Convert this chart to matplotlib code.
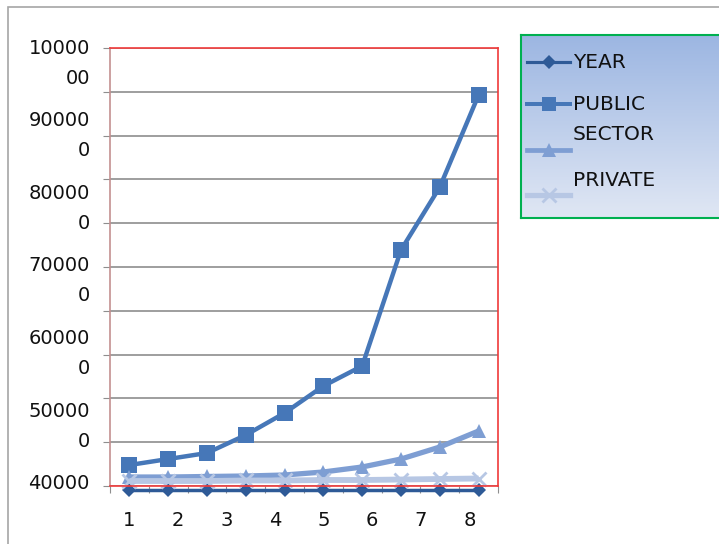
import numpy as np
import matplotlib
matplotlib.use("Agg")
import matplotlib.pyplot as plt
from matplotlib.patches import Rectangle
from matplotlib.lines import Line2D

# --- data (10 categories) ---
year_vals = [-9000] * 10
public_vals = [47900, 61600, 75300, 116400, 166700, 228300, 274000, 538800, 682600, 892700]
sector_vals = [20500, 20500, 21700, 22800, 25100, 32000, 43400, 61600, 89000, 125600]
private_vals = [11400, 11400, 11400, 12600, 12600, 13700, 13700, 14800, 16000, 17100]

series_names = ["YEAR", "PUBLIC", "SECTOR", "PRIVATE"]
x_labels = ["1", "2", "3", "4", "5", "6", "7", "8"]
y_labels = ["10000\n00", "90000\n0", "80000\n0", "70000\n0", "60000\n0", "50000\n0", "40000"]

colors = ["#2E5A97", "#4677B8", "#7E9ED3", "#B7C7E4"]
markers = ["D", "s", "^", "x"]

W, H = 719, 544
fig = plt.figure(figsize=(W / 100, H / 100), dpi=100)
plt.rcParams["font.family"] = ["DejaVu Sans"]

# outer chart border (only top/left visible in the crop)
fig.patches.append(Rectangle((8 / W, -0.1), 1, 1.1 - 7 / H, transform=fig.transFigure,
                             fill=False, edgecolor="#A6A6A6", lw=1.2))

ax = fig.add_axes([110 / W, (H - 486) / H, 388 / W, 438 / H])
x = np.arange(10)
ax.set_xlim(-0.5, 9.5)
ax.set_ylim(0, 1000000)

ax.set_yticks(np.arange(0, 1000001, 100000))
ax.yaxis.grid(True, color="#8E8E8E", lw=1.2)
ax.set_axisbelow(True)
ax.tick_params(axis="y", length=5, color="#8E8E8E", labelleft=False)
ax.set_xticks(np.arange(-0.5, 10, 1))
ax.tick_params(axis="x", length=5, color="#8E8E8E", labelbottom=False)

for s in ["top", "right", "bottom"]:
    ax.spines[s].set_color("#F03A3A")
    ax.spines[s].set_linewidth(1.2)
ax.spines["left"].set_color("#C49090")
ax.spines["left"].set_linewidth(1.2)

all_vals = [year_vals, public_vals, sector_vals, private_vals]
styles = [
    dict(lw=2.5, ms=7, mew=0),
    dict(lw=3.2, ms=11, mew=0),
    dict(lw=3.8, ms=10, mew=0),
    dict(lw=4.2, ms=10, mew=2.0),
]
for vals, c, m, st in zip(all_vals, colors, markers, styles):
    ax.plot(x, vals, color=c, marker=m, clip_on=False, solid_capstyle="butt", **st)

# y labels: wrapped text as in the original, first line on the tick
label_pos = np.linspace(1000000, 5000, len(y_labels))
for pos, lab in zip(label_pos, y_labels):
    for j, line in enumerate(lab.split("\n")):
        ax.annotate(line, xy=(0, pos), xycoords=("axes fraction", "data"),
                    xytext=(-14.5, -j * 21.6), textcoords="offset points",
                    ha="right", va="center", fontsize=14, color="#111111",
                    annotation_clip=False)

# x labels, spaced as in the original
label_x = np.arange(len(x_labels)) * 1.252
for pos, lab in zip(label_x, x_labels):
    ax.annotate(lab, xy=(pos, 0), xycoords="data", xytext=(0, -24.5),
                textcoords="offset points", ha="center", va="center",
                fontsize=14, color="#111111", annotation_clip=False)

# legend box with gradient
lax = fig.add_axes([521 / W, (H - 218) / H, (724 - 521) / W, (218 - 35) / H])
grad = np.linspace(0, 1, 256).reshape(256, 1, 1)
top = np.array([156, 182, 226]) / 255
bot = np.array([224, 231, 244]) / 255
img = (top + (bot - top) * grad) * np.ones((1, 2, 1))
lax.imshow(img, extent=(521, 724, 218, 35), aspect="auto")
lax.set_xlim(521, 724)
lax.set_ylim(218, 35)
lax.set_xticks([])
lax.set_yticks([])
for s in lax.spines.values():
    s.set_color("#00B050")
    s.set_linewidth(1.5)

marker_y = [62, 104, 150, 195]
text_y = [62, 104, 135, 181]
for name, c, m, st, my, ty in zip(series_names, colors, markers, styles, marker_y, text_y):
    lax.add_line(Line2D([527, 570], [my, my], color=c, lw=st["lw"] * 0.9))
    lax.plot([548.5], [my], marker=m, color=c, ms=st["ms"] * 0.95, mew=st["mew"], ls="none")
    lax.text(573, ty, name, ha="left", va="center", fontsize=14.5, color="#111111")

fig.savefig("out.png", dpi=100)
